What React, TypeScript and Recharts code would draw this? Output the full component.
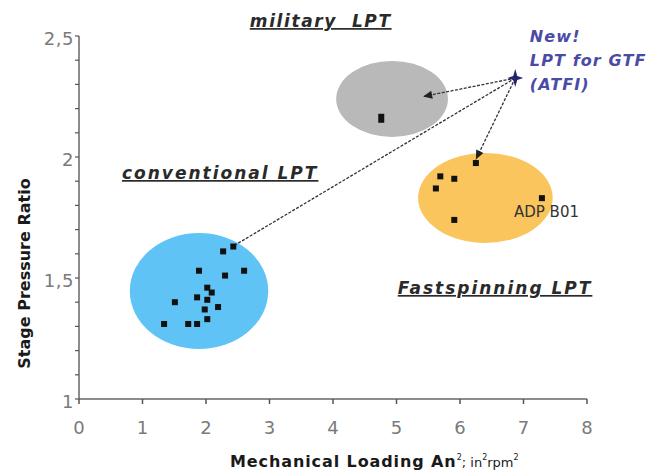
import React from "react";
import {
  ScatterChart,
  Scatter,
  XAxis,
  YAxis,
  ReferenceArea,
  ReferenceLine,
  ReferenceDot,
  Label,
} from "recharts";

// Stage pressure ratio vs. mechanical loading An² for three LPT families
const conventional = [
  { x: 2.27, y: 1.61 },
  { x: 2.43, y: 1.63 },
  { x: 1.89, y: 1.53 },
  { x: 2.3, y: 1.51 },
  { x: 2.6, y: 1.53 },
  { x: 2.02, y: 1.46 },
  { x: 2.09, y: 1.44 },
  { x: 1.51, y: 1.4 },
  { x: 1.86, y: 1.42 },
  { x: 2.02, y: 1.41 },
  { x: 2.19, y: 1.38 },
  { x: 1.98, y: 1.37 },
  { x: 2.02, y: 1.33 },
  { x: 1.34, y: 1.31 },
  { x: 1.72, y: 1.31 },
  { x: 1.86, y: 1.31 },
];
const military = [{ x: 4.76, y: 2.16 }];
const fastspinning = [
  { x: 6.25, y: 1.975 },
  { x: 5.69, y: 1.92 },
  { x: 5.91, y: 1.91 },
  { x: 5.62, y: 1.87 },
  { x: 5.91, y: 1.74 },
  { x: 7.29, y: 1.83 },
];
const atfi = [{ x: 6.87, y: 2.326 }];

// extents of the shaded regions (data units)
const regions = [
  { key: "military", x1: 4.05, x2: 5.81, y1: 2.083, y2: 2.397 },
  { key: "fastspinning", x1: 5.34, x2: 7.46, y1: 1.645, y2: 2.017 },
  { key: "conventional", x1: 0.8, x2: 2.98, y1: 1.207, y2: 1.686 },
];

// arrows from the new GTF turbine to each family
const arrows = [
  { key: "toMilitary", x: 5.42, y: 2.25, head: true },
  { key: "toFast", x: 6.25, y: 1.99, head: true },
  { key: "toConv", x: 2.45, y: 1.635, head: false },
];

const xTicks = [0, 1, 2, 3, 4, 5, 6, 7, 8];
const yTicks = [1, 1.1, 1.2, 1.3, 1.4, 1.5, 1.6, 1.7, 1.8, 1.9, 2, 2.1, 2.2, 2.3, 2.4, 2.5];

const FILL: Record<string, string> = {
  military: "#b9b9b9",
  fastspinning: "#fbc55e",
  conventional: "#60c3f6",
};

const FONT = "'DejaVu Sans', sans-serif";

const ellipse = (fill: string) => (p: any) => (
  <ellipse
    cx={p.x + p.width / 2}
    cy={p.y + p.height / 2}
    rx={Math.abs(p.width) / 2}
    ry={Math.abs(p.height) / 2}
    fill={fill}
  />
);

const arrowShape = (head: boolean) => (p: any) => {
  const { x1, y1, x2, y2 } = p;
  const a = Math.atan2(y2 - y1, x2 - x1);
  const L = 9;
  const W = 4;
  const bx = x2 - L * Math.cos(a);
  const by = y2 - L * Math.sin(a);
  const pts = `${x2},${y2} ${bx + W * Math.sin(a)},${by - W * Math.cos(a)} ${bx - W * Math.sin(a)},${by + W * Math.cos(a)}`;
  return (
    <g>
      <line x1={x1} y1={y1} x2={x2} y2={y2} stroke="#333" strokeWidth={1.3} strokeDasharray="3 1.5" />
      {head && <polygon points={pts} fill="#222" />}
    </g>
  );
};

const square = (p: any) => <rect x={p.cx - 3} y={p.cy - 3} width={6} height={6} fill="#111" />;
const tallSquare = (p: any) => <rect x={p.cx - 3} y={p.cy - 4.5} width={6} height={9} fill="#111" />;

const star = (p: any) => {
  const { cx, cy } = p;
  const d = `M${cx},${cy - 9} L${cx + 2},${cy - 2} L${cx + 8},${cy} L${cx + 2},${cy + 2} L${cx},${cy + 9} L${cx - 2},${cy + 2} L${cx - 8},${cy} L${cx - 2},${cy - 2} Z`;
  return <path d={d} fill="#23236e" />;
};

const heading = (text: string, spacing: number) => (p: any) => (
  <text
    x={p.cx}
    y={p.cy}
    fontFamily={FONT}
    fontSize={17}
    fontWeight="bold"
    fontStyle="italic"
    letterSpacing={spacing}
    fill="#2a2a2a"
    textDecoration="underline"
    style={{ whiteSpace: "pre" }}
  >
    {text}
  </text>
);

const newLines = ["New!", "LPT for GTF", "(ATFI)"];
const newNote = (p: any) => (
  <text x={p.cx} y={p.cy} fontFamily={FONT} fontSize={16} fontWeight="bold" fontStyle="italic" letterSpacing={1.1} fill="#4b4ba6">
    {newLines.map((l, i) => (
      <tspan key={l} x={p.cx} dy={i === 0 ? 0 : 24}>
        {l}
      </tspan>
    ))}
  </text>
);

const adpNote = (p: any) => (
  <text x={p.cx} y={p.cy} fontFamily={FONT} fontSize={15} fill="#333">
    ADP B01
  </text>
);

const fmtY = (v: number) => (Number.isInteger(v * 2) ? String(v).replace(".", ",") : "");

export default function App() {
  return (
    <div style={{ position: "absolute", left: 0, top: 0, width: 662, height: 476, background: "#fff" }}>
      <ScatterChart width={662} height={476} margin={{ top: 36, right: 75, bottom: 47, left: 35 }}>
        <XAxis
          type="number"
          dataKey="x"
          domain={[0, 8]}
          ticks={xTicks}
          height={30}
          axisLine={{ stroke: "#666", strokeWidth: 1.5 }}
          tickLine={{ stroke: "#555", strokeWidth: 1.5 }}
          tickSize={5}
          tickMargin={17}
          tick={{ fill: "#7a7a7a", fontSize: 18, fontFamily: FONT }}
        >
          <Label
            content={(props: any) => {
              const vb = props.viewBox;
              return (
                <text x={vb.x + 151} y={vb.y + 68} fontFamily={FONT} fill="#1a1a1a">
                  <tspan fontSize={16} fontWeight="bold" letterSpacing={0.9}>Mechanical Loading An</tspan>
                  <tspan fontSize={8} dy={-7}>2</tspan>
                  <tspan fontSize={13} dy={7}>; in</tspan>
                  <tspan fontSize={8} dy={-7}>2</tspan>
                  <tspan fontSize={13} dy={7}>rpm</tspan>
                  <tspan fontSize={8} dy={-7}>2</tspan>
                </text>
              );
            }}
          />
        </XAxis>
        <YAxis
          type="number"
          dataKey="y"
          domain={[1, 2.5]}
          ticks={yTicks}
          width={44}
          interval={0}
          axisLine={{ stroke: "#666", strokeWidth: 1.5 }}
          tickLine={{ stroke: "#555", strokeWidth: 1.2 }}
          tickSize={4}
          tickMargin={1}
          tickFormatter={fmtY}
          tick={{ fill: "#7a7a7a", fontSize: 18, fontFamily: FONT, letterSpacing: 0.5, dy: 3 }}
        >
          <Label
            content={(props: any) => {
              const vb = props.viewBox;
              const cx = vb.x - 5;
              const cy = vb.y + vb.height / 2 + 56;
              return (
                <text
                  x={cx}
                  y={cy}
                  transform={`rotate(-90 ${cx} ${cy})`}
                  textAnchor="middle"
                  fontFamily={FONT}
                  fontSize={16}
                  fontWeight="bold"
                  fill="#1a1a1a"
                >
                  Stage Pressure Ratio
                </text>
              );
            }}
          />
        </YAxis>

        {regions.map((r) => (
          <ReferenceArea
            key={r.key}
            x1={r.x1}
            x2={r.x2}
            y1={r.y1}
            y2={r.y2}
            ifOverflow="visible"
            shape={ellipse(FILL[r.key])}
          />
        ))}

        {arrows.map((a) => (
          <ReferenceLine
            key={a.key}
            segment={[
              { x: atfi[0].x, y: atfi[0].y },
              { x: a.x, y: a.y },
            ]}
            ifOverflow="visible"
            shape={arrowShape(a.head)}
          />
        ))}

        <Scatter data={conventional} shape={square} isAnimationActive={false} />
        <Scatter data={military} shape={tallSquare} isAnimationActive={false} />
        <Scatter data={fastspinning} shape={square} isAnimationActive={false} />
        <Scatter data={atfi} shape={star} isAnimationActive={false} />

        <ReferenceDot x={2.69} y={2.537} ifOverflow="visible" shape={heading("military  LPT", 1.6)} />
        <ReferenceDot x={0.677} y={1.909} ifOverflow="visible" shape={heading("conventional LPT", 2)} />
        <ReferenceDot x={5.02} y={1.434} ifOverflow="visible" shape={heading("Fastspinning LPT", 2)} />
        <ReferenceDot x={7.1} y={2.475} ifOverflow="visible" shape={newNote} />
        <ReferenceDot x={6.85} y={1.752} ifOverflow="visible" shape={adpNote} />
      </ScatterChart>
    </div>
  );
}
